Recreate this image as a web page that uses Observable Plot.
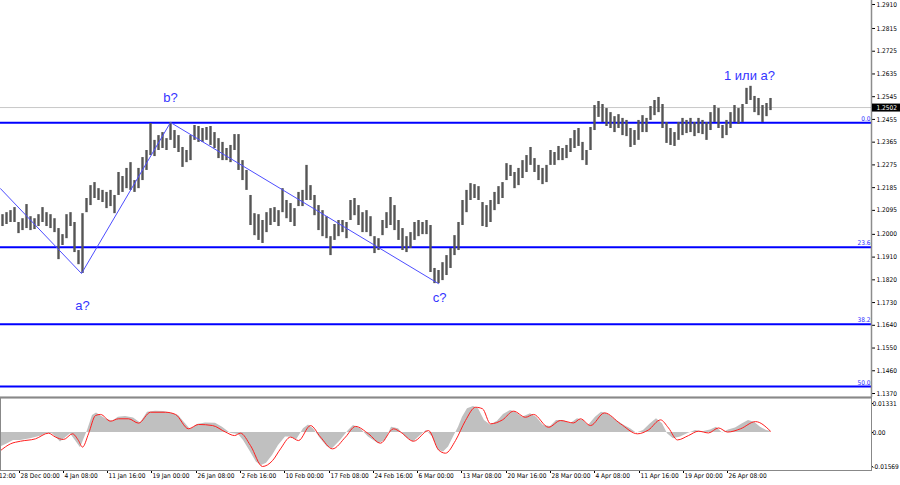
<!DOCTYPE html>
<html><head><meta charset="utf-8">
<script src="https://cdn.jsdelivr.net/npm/d3@7"></script>
<script src="https://cdn.jsdelivr.net/npm/@observablehq/plot@0.6"></script>
<style>
html,body{margin:0;padding:0;background:#fff;}
#chart{width:900px;height:485px;overflow:hidden;}
#chart svg{display:block;}
</style></head><body><div id="chart"></div>
<script>
// ---- data ----
const FIRST_BAR = 2, BARS_PER_CANDLE = 4;
const candleHigh = [
1.2078,1.2086,1.2094,1.2106,1.2047,1.2062,1.2118,1.2070,1.2062,1.2078,
1.2106,1.2086,1.2078,1.2062,1.2023,1.1999,1.2078,1.2086,1.2047,1.1936,
1.2082,1.2142,1.2193,1.2205,1.2181,1.2174,1.2166,1.2174,1.2154,1.2245,
1.2229,1.2261,1.2284,1.2213,1.2261,1.2304,1.2332,1.2439,1.2372,1.2391,
1.2403,1.2379,1.2443,1.2411,1.2391,1.2344,1.2332,1.2391,1.2431,1.2427,
1.2419,1.2423,1.2427,1.2403,1.2379,1.2364,1.2340,1.2352,1.2395,1.2395,
1.2292,1.2253,1.2154,1.2082,1.2078,1.2055,1.2086,1.2102,1.2106,1.2094,
1.2181,1.2134,1.2122,1.2102,1.2166,1.2174,1.2273,1.2193,1.2154,1.2114,
1.2094,1.2070,1.1991,1.2039,1.2055,1.2055,1.2047,1.2134,1.2142,1.2114,
1.2086,1.2094,1.2070,1.1991,1.1983,1.2055,1.2086,1.2146,1.2114,1.2055,
1.2023,1.1991,1.2007,1.2047,1.2055,1.2047,1.2055,1.2035,1.1865,1.1857,
1.1888,1.1916,1.1944,1.1995,1.2047,1.2134,1.2174,1.2201,1.2197,1.2189,
1.2126,1.2114,1.2134,1.2166,1.2189,1.2205,1.2280,1.2273,1.2245,1.2261,
1.2292,1.2312,1.2344,1.2300,1.2273,1.2261,1.2273,1.2332,1.2324,1.2348,
1.2340,1.2352,1.2379,1.2411,1.2419,1.2364,1.2332,1.2423,1.2510,1.2526,
1.2514,1.2498,1.2482,1.2466,1.2474,1.2459,1.2451,1.2419,1.2411,1.2451,
1.2470,1.2459,1.2506,1.2530,1.2542,1.2514,1.2443,1.2419,1.2403,1.2443,
1.2459,1.2451,1.2459,1.2443,1.2459,1.2451,1.2443,1.2482,1.2510,1.2498,
1.2431,1.2451,1.2482,1.2510,1.2498,1.2514,1.2578,1.2586,1.2546,1.2538,
1.2510,1.2518,1.2538];
const candleLow = [
1.2031,1.2039,1.2047,1.2047,1.2003,1.2015,1.2023,1.2015,1.2019,1.2031,
1.2047,1.2031,1.2023,1.2007,1.1900,1.1956,1.1983,1.2031,1.1928,1.1880,
1.1845,1.2086,1.2114,1.2142,1.2134,1.2126,1.2102,1.2110,1.2082,1.2154,
1.2166,1.2181,1.2174,1.2166,1.2181,1.2213,1.2253,1.2312,1.2308,1.2332,
1.2340,1.2332,1.2372,1.2340,1.2324,1.2265,1.2284,1.2292,1.2372,1.2364,
1.2364,1.2372,1.2352,1.2340,1.2300,1.2292,1.2292,1.2284,1.2332,1.2253,
1.2213,1.2174,1.2035,1.1995,1.1976,1.1964,1.2007,1.2035,1.2047,1.2031,
1.2086,1.2062,1.2047,1.2031,1.2110,1.2110,1.2134,1.2134,1.2074,1.2015,
1.1991,1.1983,1.1916,1.1976,1.1991,1.2007,1.1983,1.2055,1.2074,1.2035,
1.2007,1.2007,1.1991,1.1924,1.1936,1.1995,1.2023,1.2035,1.2015,1.1976,
1.1936,1.1928,1.1944,1.1976,1.1991,1.1999,1.1999,1.1849,1.1805,1.1805,
1.1817,1.1837,1.1865,1.1916,1.1936,1.2035,1.2086,1.2134,1.2142,1.2134,
1.2031,1.2027,1.2047,1.2094,1.2118,1.2142,1.2213,1.2229,1.2181,1.2193,
1.2221,1.2245,1.2273,1.2245,1.2213,1.2197,1.2205,1.2273,1.2273,1.2292,
1.2292,1.2300,1.2324,1.2340,1.2348,1.2292,1.2273,1.2332,1.2411,1.2463,
1.2443,1.2427,1.2419,1.2403,1.2419,1.2391,1.2387,1.2344,1.2352,1.2372,
1.2403,1.2403,1.2451,1.2470,1.2482,1.2419,1.2360,1.2352,1.2348,1.2372,
1.2391,1.2399,1.2403,1.2387,1.2399,1.2395,1.2372,1.2411,1.2443,1.2419,
1.2379,1.2391,1.2419,1.2443,1.2435,1.2443,1.2514,1.2530,1.2482,1.2470,
1.2443,1.2466,1.2490];
const lastPrice = 1.2502;

const fibLevels = [1.2442, 1.1949, 1.1644, 1.1398];
const fibLabels = ["0.0", "23.6", "38.2", "50.0"];

const waveBars   = [0, 81, 170, 438];
const wavePrices = [1.2181, 1.1845, 1.2443, 1.1805];

const waveLabelText   = ["a?", "b?", "c?", "1 или а?"];
const waveLabelBars   = [82, 170, 439, 749];
const waveLabelPrices = [1.1718, 1.2542, 1.1750, 1.2629];

const priceTicks = [1.2910,1.2815,1.2725,1.2635,1.2545,1.2455,1.2365,1.2275,1.2185,1.2095,
                    1.2000,1.1910,1.1820,1.1730,1.1640,1.1550,1.1460,1.1370];

const timeTickBars = [-25,19,63,107,151,196,240,284,329,373,417,461,506,550,594,639,683,727];
const timeTickLabels = ["21 Dec 12:00","28 Dec 00:00","4 Jan 08:00","11 Jan 16:00","19 Jan 00:00",
  "26 Jan 08:00","2 Feb 16:00","10 Feb 00:00","17 Feb 08:00","24 Feb 16:00","6 Mar 00:00",
  "13 Mar 08:00","20 Mar 16:00","28 Mar 00:00","4 Apr 08:00","11 Apr 16:00","19 Apr 00:00","26 Apr 08:00"];

const histBars = [0,7,13,20,30,40,47,52,60,70,80,87,92,96,105,112,118,125,133,140,147,155,163,170,178,
  185,190,197,205,215,222,230,238,243,250,256,261,266,272,278,285,290,296,303,308,313,320,327,332,340,
  348,353,360,368,378,385,391,398,405,413,420,426,432,438,443,448,453,458,462,467,473,478,484,490,497,
  503,510,515,522,530,536,543,550,556,563,570,577,583,588,595,601,607,615,623,630,636,643,650,656,662,
  667,673,680,688,695,702,710,716,722,728,735,742,748,754,760,766,770];
const histValues = [-0.0067,-0.0052,-0.0037,-0.0037,-0.0029,-0.0017,-0.0003,-0.0006,-0.0044,-0.0006,
  -0.0070,0.0009,0.0078,0.0089,0.0063,0.0052,0.0070,0.0073,0.0067,0.0044,0.0093,0.0098,0.0096,0.0089,0.0078,
  0.0040,0.0014,0.0037,0.0044,0.0043,0.0024,-0.0003,-0.0009,-0.0037,-0.0090,-0.0136,-0.0151,-0.0141,-0.0106,-0.0060,
  -0.0021,-0.0021,-0.0034,0.0017,0.0035,0.0017,-0.0029,-0.0067,-0.0075,-0.0037,
  0.0009,0.0032,0.0017,-0.0021,-0.0052,-0.0037,0.0024,0.0017,-0.0021,-0.0044,-0.0014,0.0009,-0.0021,-0.0083,-0.0090,
  -0.0067,-0.0021,0.0024,0.0070,0.0109,0.0119,0.0109,0.0055,0.0035,0.0052,
  0.0083,0.0101,0.0093,0.0070,0.0086,0.0070,0.0032,0.0028,0.0055,0.0055,0.0040,0.0063,0.0055,0.0032,0.0070,
  0.0093,0.0086,0.0058,0.0035,0.0017,-0.0002,0.0009,0.0040,0.0063,0.0040,
  -0.0006,-0.0029,-0.0021,-0.0003,0.0009,0.0003,0.0012,0.0024,-0.0002,0.0012,0.0021,0.0040,0.0055,0.0047,0.0024,
  0.0009,0.0006];

const signalBars = [0,10,20,35,48,55,63,72,78,82,88,95,100,110,118,128,138,150,165,175,188,198,212,225,234,240,
  250,262,272,280,290,298,310,320,332,345,355,368,380,393,400,413,428,438,445,455,465,475,482,490,502,513,
  525,533,548,560,573,580,590,604,620,637,648,660,668,677,688,698,708,718,727,740,755,770];
const signalValues = [-0.0083,-0.0052,-0.0040,-0.0029,-0.0003,-0.0021,-0.0032,-0.0006,-0.0037,-0.0067,-0.0006,
  0.0078,0.0083,0.0052,0.0063,0.0063,0.0043,0.0093,0.0093,0.0083,0.0017,0.0037,0.0032,0.0002,-0.0014,-0.0003,
  -0.0060,-0.0156,-0.0129,-0.0075,-0.0021,-0.0037,0.0032,-0.0021,-0.0075,-0.0021,0.0028,-0.0006,-0.0049,0.0017,
  0.0002,-0.0040,0.0009,-0.0080,-0.0095,-0.0037,0.0055,0.0116,0.0109,0.0040,0.0058,0.0098,
  0.0070,0.0083,0.0024,0.0055,0.0044,0.0063,0.0032,0.0090,0.0040,-0.0006,0.0012,0.0058,0.0021,-0.0034,-0.0014,
  0.0006,-0.0002,0.0021,0.0002,0.0017,0.0050,0.0006];

const oscTicks = [0.01331, 0, -0.01569];

// ---- tables built from the arrays ----
const candles = candleHigh.map((h, i) => ({bar: FIRST_BAR + i * BARS_PER_CANDLE, high: h, low: candleLow[i]}));
const waves = waveBars.map((b, i) => ({bar: b, price: wavePrices[i]}));
const waveLabels = waveLabelText.map((t, i) => ({bar: waveLabelBars[i], price: waveLabelPrices[i], text: t}));
const fibs = fibLevels.map((p, i) => ({price: p, label: fibLabels[i]}));
const timeTicks = timeTickBars.map((b, i) => ({bar: b, label: timeTickLabels[i]}));
const hist = histBars.map((b, i) => ({bar: b, value: histValues[i]}));
const signal = signalBars.map((b, i) => ({bar: b, value: signalValues[i]}));

const X_DOMAIN = [0, 871];
const PRICE_DOMAIN = [1.13542, 1.29258];
const OSC_DOMAIN = [-0.01744, 0.01607];
const SMALL = "'Liberation Sans Narrow','Arial Narrow','DejaVu Sans Condensed',sans-serif";
const LABEL = "'Liberation Sans',Arial,sans-serif";

const main = Plot.plot({
  width: 900, height: 397,
  marginLeft: 0, marginRight: 29, marginTop: 0, marginBottom: 0,
  style: {background: "#fff", color: "#000", fontFamily: SMALL, fontSize: "6.5px", overflow: "visible"},
  x: {domain: X_DOMAIN, axis: null},
  y: {domain: PRICE_DOMAIN, axis: "right", ticks: priceTicks, tickFormat: d => d.toFixed(4),
      tickSize: 3, tickPadding: 2, label: null},
  marks: [
    Plot.ruleY([lastPrice], {stroke: "#c8c8c8", strokeWidth: 1}),
    Plot.ruleY(fibs, {y: "price", stroke: "#0000ff", strokeWidth: 2}),
    Plot.text(fibs, {x: X_DOMAIN[1], y: "price", text: "label", textAnchor: "end", dx: -1, dy: -4,
      fill: "#3030ff", fontSize: 6.5}),
    Plot.ruleX(candles, {x: "bar", y1: "low", y2: "high", stroke: "#555", strokeWidth: 2.4}),
    Plot.line(waves, {x: "bar", y: "price", stroke: "#4d4dff", strokeWidth: 1}),
    Plot.text(waveLabels, {x: "bar", y: "price", text: "text", fill: "#3434ff", fontSize: 13, fontFamily: LABEL}),
    Plot.ruleX([X_DOMAIN[1]], {stroke: "#8c8c8c", strokeWidth: 1.5}),
    Plot.ruleY([PRICE_DOMAIN[0]], {stroke: "#7a7a7a", strokeWidth: 2}),
    Plot.ruleY([lastPrice], {x1: X_DOMAIN[1] + 1, x2: X_DOMAIN[1] + 29, stroke: "#000", strokeWidth: 8}),
    Plot.text([lastPrice], {x: X_DOMAIN[1], y: d => d, text: d => d.toFixed(4), textAnchor: "start",
      dx: 5, fill: "#fff", fontSize: 6.5})
  ]
});

const osc = Plot.plot({
  width: 900, height: 88,
  marginLeft: 0, marginRight: 29, marginTop: 0, marginBottom: 15,
  style: {background: "#fff", color: "#000", fontFamily: SMALL, fontSize: "6.5px", overflow: "visible"},
  x: {domain: X_DOMAIN, ticks: timeTickBars.slice(1), tickFormat: () => "", tickSize: 3, label: null},
  y: {domain: OSC_DOMAIN, axis: "right", ticks: oscTicks, tickFormat: d => d === 0 ? "0.00" : d.toFixed(5),
      tickSize: 1, tickPadding: 0, label: null},
  marks: [
    Plot.areaY(hist, {x: "bar", y: "value", fill: "#c0c0c0", curve: "linear"}),
    Plot.line(signal, {x: "bar", y: "value", stroke: "#ff1f1f", strokeWidth: 1, curve: "monotone-x"}),
    Plot.frame({stroke: "#888"}),
    Plot.text(timeTicks, {x: "bar", text: "label", frameAnchor: "bottom", textAnchor: "start", dy: 7, dx: 1})
  ]
});

const el = document.getElementById("chart");
el.appendChild(main);
el.appendChild(osc);
</script></body></html>
